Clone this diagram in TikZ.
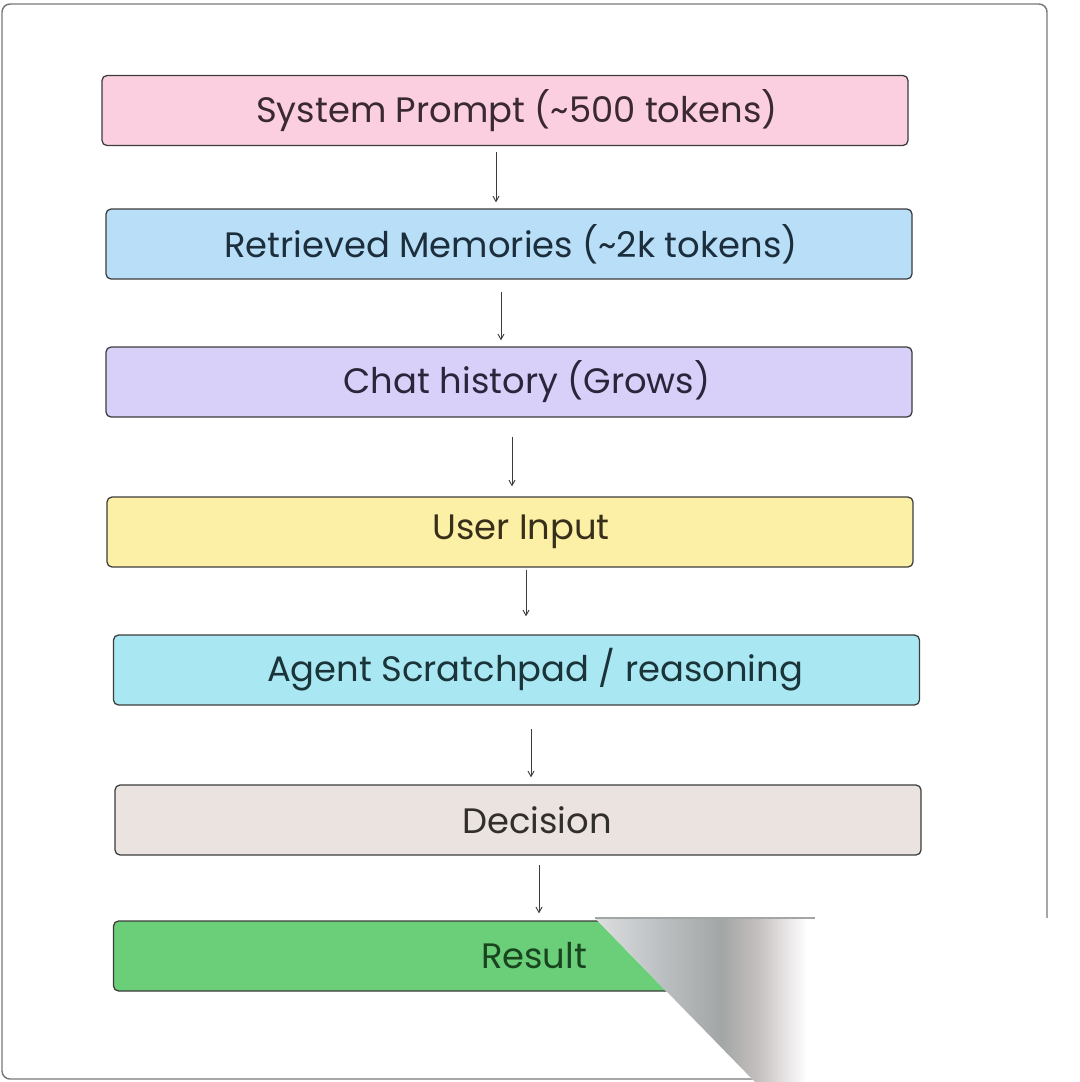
\documentclass[tikz,border=0pt]{standalone}
\usepackage{fontspec}
\setmainfont{Poppins}
\usepackage{tikz}
\usetikzlibrary{arrows.meta,calc}

\definecolor{framegray}{RGB}{120,120,120}
\definecolor{edgegray}{RGB}{60,60,60}
\definecolor{sysfill}{RGB}{251,207,223}
\definecolor{memfill}{RGB}{185,222,248}
\definecolor{chatfill}{RGB}{216,208,249}
\definecolor{userfill}{RGB}{252,239,166}
\definecolor{agentfill}{RGB}{169,232,243}
\definecolor{decfill}{RGB}{234,227,223}
\definecolor{resfill}{RGB}{106,207,120}
\definecolor{systext}{RGB}{58,40,50}
\definecolor{memtext}{RGB}{28,46,60}
\definecolor{chattext}{RGB}{42,37,58}
\definecolor{usertext}{RGB}{56,47,26}
\definecolor{agenttext}{RGB}{27,52,57}
\definecolor{dectext}{RGB}{50,46,44}
\definecolor{restext}{RGB}{25,68,32}
\definecolor{foldA}{RGB}{220,222,224}
\definecolor{foldB}{RGB}{192,195,197}
\definecolor{foldC}{RGB}{162,166,166}
\definecolor{foldD}{RGB}{196,190,190}
\pgfdeclarehorizontalshading{fold}{100bp}{color(0bp)=(foldA); color(25bp)=(foldA);
    color(38bp)=(foldB); color(53bp)=(foldC); color(61bp)=(foldD); color(72bp)=(white); color(100bp)=(white)}

\tikzset{
    stage/.style={draw=edgegray, line width=0.95pt, rounded corners=3.75pt,
        minimum width=604.5pt, minimum height=52.5pt, inner sep=0pt,
        font=\fontsize{26.5}{30}\selectfont},
    flow/.style={draw=edgegray, line width=0.7pt, -{Straight Barb[length=4pt,width=4.5pt]}},
}

\begin{document}
\begin{tikzpicture}[x=0.75pt,y=0.75pt,yscale=-1,xscale=1]
        \useasboundingbox (0,0) rectangle (1080,1082);
        %Outer frame
        \draw [framegray, line width=1.1pt, rounded corners=6pt] (2,4) rectangle (1047,1079);
        % Stages
        \node [stage, fill=sysfill, text=systext] (sys) at (505,110.5) {\hspace*{18pt}System Prompt (\textasciitilde500 tokens)};
        \node [stage, fill=memfill, text=memtext] (mem) at (509,244) {\hspace*{3pt}Retrieved Memories (\textasciitilde2k tokens)};
        \node [stage, fill=chatfill, text=chattext] (chat) at (509,382) {\hspace*{27pt}Chat history (Grows)};
        \node [stage, fill=userfill, text=usertext] (user) at (510,532) {\hspace*{16.5pt}User Input};
        \node [stage, fill=agentfill, text=agenttext] (agent) at (516.5,670) {\hspace*{27.75pt}Agent Scratchpad / reasoning};
        \node [stage, fill=decfill, text=dectext] (dec) at (518,820) {\hspace*{28.5pt}Decision};
        \node [stage, fill=resfill, text=restext] (res) at (516.5,956) {\hspace*{26.25pt}Result};
        % Arrows
        \draw [flow, shorten <=4.5pt, shorten >=4.5pt] ([xshift=-6.75pt]sys.south) -- ([xshift=-9.75pt]mem.north);
        \draw [flow, shorten <=9pt, shorten >=4.5pt] ([xshift=-6pt]mem.south) -- ([xshift=-6pt]chat.north);
        \draw [flow, shorten <=14.25pt, shorten >=7.5pt] ([xshift=2.25pt]chat.south) -- ([xshift=1.5pt]user.north);
        \draw [flow, shorten <=1.5pt, shorten >=13.5pt] ([xshift=12pt]user.south) -- ([xshift=7.125pt]agent.north);
        \draw [flow, shorten <=17.25pt, shorten >=5.25pt] ([xshift=10.875pt]agent.south) -- ([xshift=9.75pt]dec.north);
        \draw [flow, shorten <=6.75pt, shorten >=5.25pt] ([xshift=15.75pt]dec.south) -- ([xshift=16.875pt]res.north);
        % Folded corner overlay
        \fill [white] (595,918) -- (1080,918) -- (1080,1082) -- (755,1082) -- cycle;
        \begin{scope}
            \clip (595,918) -- (1080,918) -- (1080,1082) -- (755,1082) -- cycle;
            \shade [shading=fold] (595,918) rectangle (820,1082);
        \end{scope}
        \draw [foldC, line width=0.8pt] (595,918) -- (815,918);
\end{tikzpicture}
\end{document}
